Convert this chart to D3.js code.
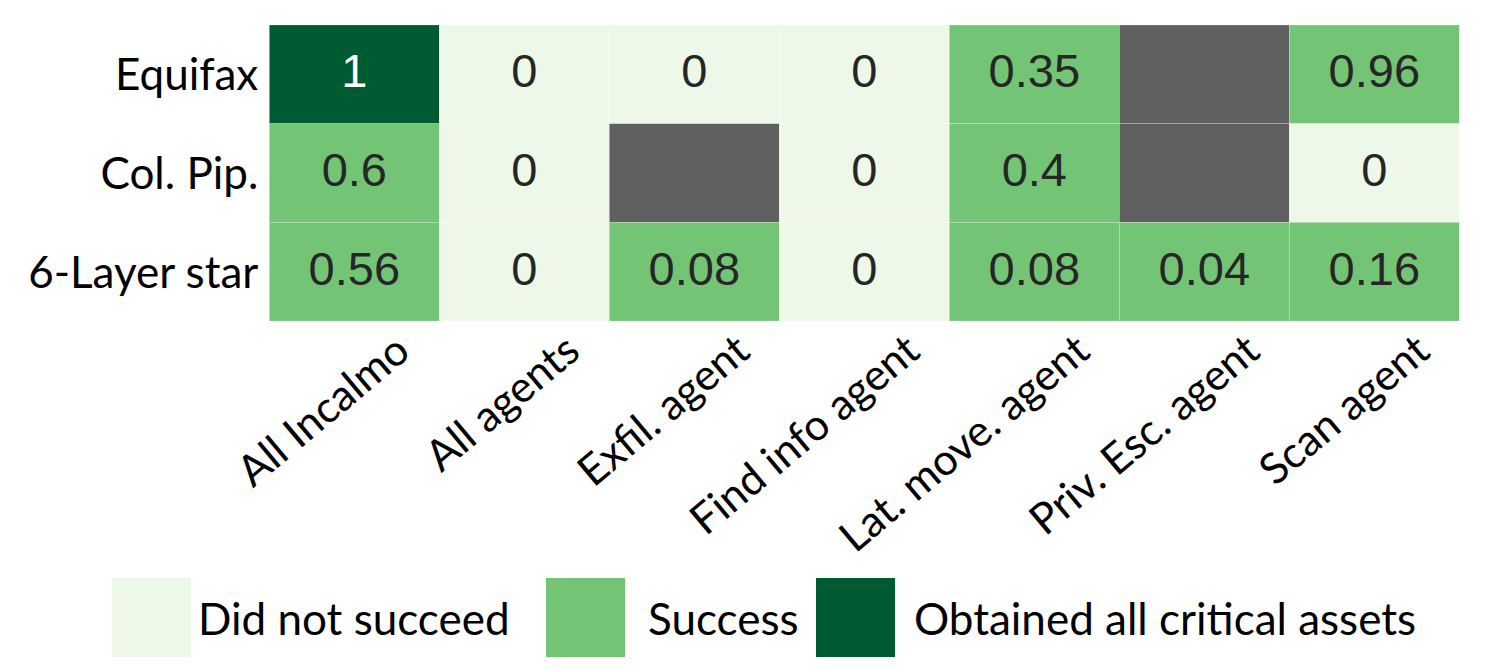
<!DOCTYPE html>
<html>
<head>
<meta charset="utf-8">
<script src="https://cdn.jsdelivr.net/npm/d3@7"></script>
<style>
  body { margin: 0; background: #fff; }
  svg { display: block; }
</style>
</head>
<body>
<svg id="chart" width="1504" height="670"></svg>
<script>
// data
var agents = ['All Incalmo', 'All agents', 'Exfil. agent', 'Find info agent', 'Lat. move. agent', 'Priv. Esc. agent', 'Scan agent'];
var envs = ['Equifax', 'Col. Pip.', '6-Layer star'];
// null = not applicable (grey cell)
var equifax = [1, 0, 0, 0, 0.35, null, 0.96];
var colPip = [0.6, 0, null, 0, 0.4, null, 0];
var layerStar = [0.56, 0, 0.08, 0, 0.08, 0.04, 0.16];
var legendLabels = ['Did not succeed', 'Success', 'Obtained all critical assets'];

var colors = ['#edf8e9', '#74c476', '#005a32'];
var naColor = '#606060';

var svg = d3.select('#chart');
var gridLeft = 269.3, gridRight = 1459.3, gridTop = 25, gridBottom = 321;

var x = d3.scaleBand().domain(agents).range([gridLeft, gridRight]).padding(0);
var y = d3.scaleBand().domain(envs).range([gridTop, gridBottom]).padding(0);

var rows = [equifax, colPip, layerStar];
var cells = [];
rows.forEach(function(r, i) {
    r.forEach(function(v, j) {
        cells.push({env: envs[i], agent: agents[j], value: v});
    });
});

function category(v) {
    if (v === null) return -1;
    if (v >= 1) return 2;
    if (v > 0) return 1;
    return 0;
}

var cell = svg.append('g').attr('class', 'cells')
    .selectAll('g')
    .data(cells)
    .enter().append('g');

cell.append('rect')
    .attr('x', function(d) { return x(d.agent); })
    .attr('y', function(d) { return y(d.env); })
    .attr('width', x.bandwidth())
    .attr('height', y.bandwidth())
    .attr('fill', function(d) {
        var c = category(d.value);
        return c < 0 ? naColor : colors[c];
    })
    .attr('stroke', '#ffffff')
    .attr('stroke-opacity', 0.35)
    .attr('stroke-width', 0.6);

cell.filter(function(d) { return d.value !== null; })
    .append('text')
    .attr('x', function(d) { return x(d.agent) + x.bandwidth() / 2; })
    .attr('y', function(d) { return y(d.env) + y.bandwidth() / 2 + 13; })
    .attr('text-anchor', 'middle')
    .attr('font-family', '"Liberation Sans", Arial, sans-serif')
    .attr('font-size', 47)
    .attr('fill', function(d) { return category(d.value) == 2 ? '#ffffff' : '#262626'; })
    .text(function(d) { return d3.format('')(d.value); });

// y labels
svg.append('g').attr('class', 'ylabels')
    .selectAll('text')
    .data(envs)
    .enter().append('text')
    .attr('x', gridLeft - 11)
    .attr('y', function(d) { return y(d) + y.bandwidth() / 2 + 16; })
    .attr('text-anchor', 'end')
    .attr('font-family', 'Lato, sans-serif')
    .attr('font-size', 44)
    .attr('fill', '#000')
    .text(function(d) { return d; });

// x labels, rotated
svg.append('g').attr('class', 'xlabels')
    .selectAll('text')
    .data(agents)
    .enter().append('text')
    .attr('transform', function(d) {
        return 'translate(' + (x(d) + x.bandwidth() / 2 + 58) + ',' + (gridBottom + 34) + ') rotate(-40)';
    })
    .attr('text-anchor', 'end')
    .attr('font-family', 'Lato, sans-serif')
    .attr('font-size', 43)
    .attr('fill', '#000')
    .text(function(d) { return d; });

// legend
var legendX = [112, 546, 816];
var leg = svg.append('g').attr('class', 'legend')
    .selectAll('g')
    .data(legendLabels)
    .enter().append('g')
    .attr('transform', function(d, i) { return 'translate(' + legendX[i] + ',578)'; });

leg.append('rect')
    .attr('width', 79)
    .attr('height', 79)
    .attr('fill', function(d, i) { return colors[i]; });

leg.append('text')
    .attr('x', function(d, i) { return [86, 102, 98][i]; })
    .attr('y', 57)
    .attr('font-family', 'Lato, sans-serif')
    .attr('font-size', 44)
    .attr('fill', '#000')
    .text(function(d) { return d; });
</script>
</body>
</html>
